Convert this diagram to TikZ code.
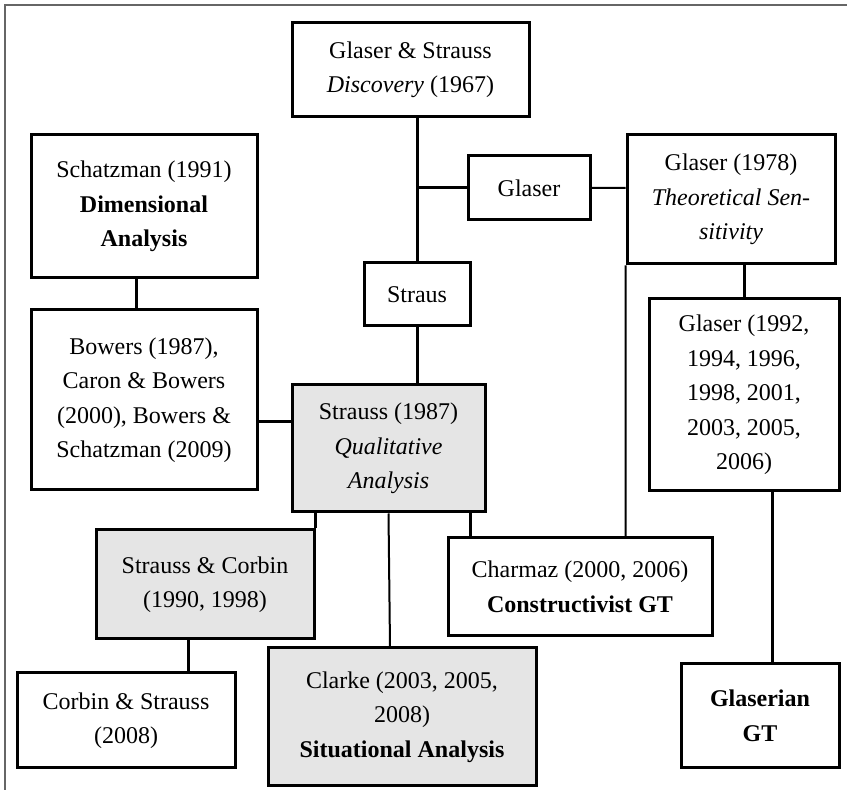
\documentclass[tikz,border=0pt]{standalone}
\usepackage{fontspec}
\setmainfont{Liberation Serif}
\tikzset{
  box/.style={draw, line width=1.5pt, align=center, inner sep=0pt,
    font={\fontsize{12}{17.25}\selectfont}},
  shadedbox/.style={box, fill=black!10},
  link/.style={line width=1.5pt},
  thinlink/.style={line width=1pt}
}
\begin{document}
\begin{tikzpicture}[x=0.5pt, y=-0.5pt]
\useasboundingbox (0,0) rectangle (847,790);
\draw[gray!80!black, line width=1pt] (847,5) -- (5,5) -- (5,790);
\draw
(410.5,70) node [box, minimum width=118.5pt, minimum height=47pt] (gs) {Glaser \& Strauss\\\textit{Discovery} (1967)}
(144,206.5) node [box, minimum width=113pt, minimum height=71.5pt] (schatz) {Schatzman (1991)\\\textbf{Dimensional}\\\textbf{Analysis}}
(144,400) node [box, minimum width=113pt, minimum height=90pt] (bowers) {Bowers (1987),\\Caron \& Bowers\\(2000), Bowers \&\\Schatzman (2009)}
(417,294.5) node [box, minimum width=53pt, minimum height=31.5pt] (straus) {Straus}
(529,188) node [box, minimum width=61pt, minimum height=32pt] (glaser) {Glaser}
(731,199.5) node [box, minimum width=104pt, minimum height=64.5pt] (glaser78) {Glaser (1978)\\\textit{Theoretical Sen-}\\\textit{sitivity}}
(744,395) node [box, minimum width=95pt, minimum height=96pt] (glaser92) {Glaser (1992,\\1994, 1996,\\1998, 2001,\\2003, 2005,\\2006)}
(388.5,448.5) node [shadedbox, minimum width=96.5pt, minimum height=63.5pt] (strauss87) {Strauss (1987)\\\textit{Qualitative}\\\textit{Analysis}}
(205,584.5) node [shadedbox, minimum width=109pt, minimum height=54.5pt] (sc) {Strauss \& Corbin\\(1990, 1998)}
(126,720.5) node [box, minimum width=109pt, minimum height=47.5pt] (cs) {Corbin \& Strauss\\(2008)}
(402,717) node [shadedbox, minimum width=134pt, minimum height=69pt] (clarke) {Clarke (2003, 2005,\\2008)\\\textbf{Situational Analysis}}
(580,587) node [box, minimum width=132pt, minimum height=49pt] (charmaz) {Charmaz (2000, 2006)\\\textbf{Constructivist GT}}
(760,716) node [box, minimum width=79pt, minimum height=52pt] (glaserian) {\textbf{Glaserian}\\\textbf{GT}};
\draw[link]
(straus.north) -- (straus.north |- gs.south)
(glaser.west) -- (glaser.west -| straus.north)
([xshift=-4pt]schatz.south) -- ([xshift=-4pt]bowers.north)
(straus.south) -- (straus.south |- strauss87.north)
([yshift=13.25pt]strauss87.west) -- ([yshift=13.25pt]strauss87.west -| bowers.east)
(sc.north east) -- (sc.north east |- strauss87.south)
([xshift=-8pt]strauss87.south east) -- ([xshift=-8pt]strauss87.south east |- charmaz.north)
(glaser92.north) -- (glaser92.north |- glaser78.south)
([xshift=14pt]glaser92.south) -- ([xshift=14pt]glaser92.south |- glaserian.north)
([xshift=-8.5pt]sc.south) -- ([xshift=-8.5pt]sc.south |- cs.north);
\draw[thinlink]
(glaser.east) -- (glaser.east -| glaser78.west)
(strauss87.south) -- ([xshift=-6pt]clarke.north)
(glaser78.south west) -- (glaser78.south west |- charmaz.north);
\end{tikzpicture}
\end{document}
